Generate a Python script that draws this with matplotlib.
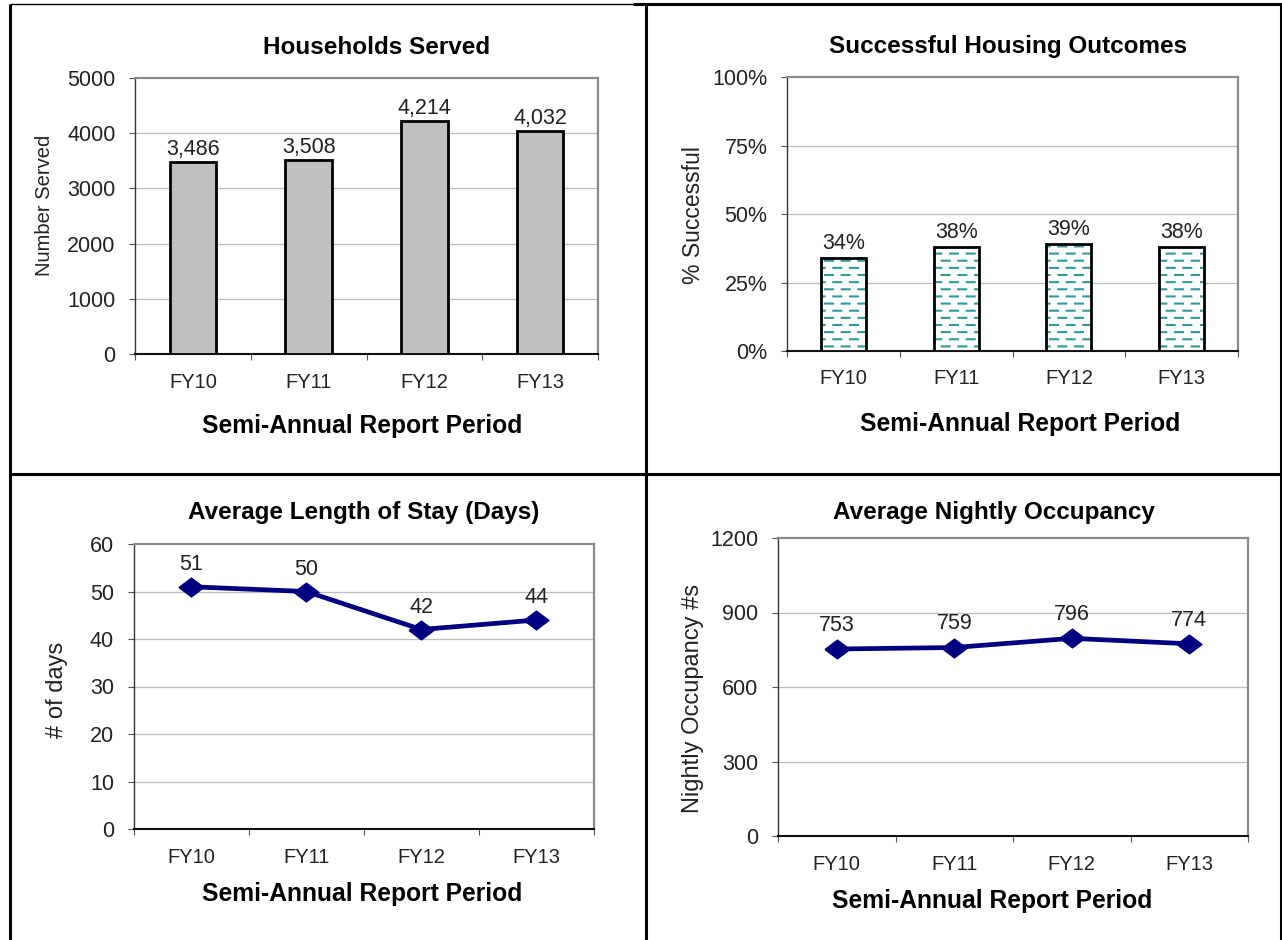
import matplotlib
matplotlib.use("Agg")
import matplotlib.pyplot as plt
import matplotlib.hatch as mhatch
from matplotlib.path import Path
from matplotlib.lines import Line2D
from matplotlib.ticker import FuncFormatter, FixedLocator

# ---------------- data ----------------
periods = ["FY10", "FY11", "FY12", "FY13"]
households = [3486, 3508, 4214, 4032]
success_pct = [34, 38, 39, 38]
stay_days = [51, 50, 42, 44]
occupancy = [753, 759, 796, 774]

titles = ["Households Served", "Successful Housing Outcomes",
          "Average Length of Stay (Days)", "Average Nightly Occupancy"]
ylabels = ["Number Served", "% Successful", "# of days", "Nightly Occupancy #s"]
xlabel = "Semi-Annual Report Period"

# ---------------- styling ----------------
plt.rcParams['font.family'] = ['Liberation Sans', 'DejaVu Sans']
plt.rcParams['hatch.linewidth'] = 1.5

W, H = 1282, 940
fig = plt.figure(figsize=(W / 100, H / 100), dpi=100)


# dashed-row hatch (replaces the plain '-' hatch)
class DashRows(mhatch.HatchPatternBase):
    rows = 14
    per_row = 6

    def __init__(self, hatch, density):
        self.num_lines = self.rows * self.per_row if '-' in hatch else 0
        self.num_vertices = self.num_lines * 2

    def set_vertices_and_codes(self, vertices, codes):
        k = 0
        period = 1.0 / self.per_row
        dash = period * 0.48
        for r in range(self.rows):
            y = (r + 0.5) / self.rows
            off = 0.0 if r % 2 == 0 else period / 2
            for c in range(self.per_row):
                x0 = c * period + off
                vertices[k] = (x0, y)
                vertices[k + 1] = (x0 + dash, y)
                codes[k] = Path.MOVETO
                codes[k + 1] = Path.LINETO
                k += 2


mhatch._hatch_types = [DashRows if t is mhatch.HorizontalHatch else t
                       for t in mhatch._hatch_types]


def px_axes(x0, y0, x1, y1):
    return fig.add_axes([x0 / W, 1 - y1 / H, (x1 - x0) / W, (y1 - y0) / H])


def ftext(x, y, s, **kw):
    fig.text(x / W, 1 - y / H, s, **kw)


def style_axes(ax, ymax, ystep, fmt, xpad):
    x = range(len(periods))
    ax.set_xlim(-0.5, len(periods) - 0.5)
    ax.set_ylim(0, ymax)
    yt = list(range(0, ymax + 1, ystep))
    ax.set_yticks(yt)
    ax.yaxis.set_major_formatter(FuncFormatter(fmt))
    for v in yt[1:-1]:
        ax.axhline(v, color='#bdbdbd', lw=0.9, zorder=0)
    ax.set_xticks(list(x))
    ax.set_xticklabels(periods)
    ax.xaxis.set_minor_locator(FixedLocator([i - 0.5 for i in range(len(periods) + 1)]))
    ax.tick_params(axis='x', which='major', length=0, pad=xpad,
                   labelsize=14.5, labelcolor='#222222')
    ax.tick_params(axis='x', which='minor', length=4.5, width=0.8,
                   color='#555555', direction='out')
    ax.tick_params(axis='y', which='major', length=4, width=0.8,
                   color='#555555', direction='out', pad=10.0,
                   labelsize=15.5, labelcolor='#222222')
    for s in ('top', 'right'):
        ax.spines[s].set_color('#8a8a8a')
        ax.spines[s].set_linewidth(1.6)
    ax.spines['left'].set_color('#333333')
    ax.spines['left'].set_linewidth(1.0)
    ax.spines['bottom'].set_color('#111111')
    ax.spines['bottom'].set_linewidth(1.5)


xpos = list(range(len(periods)))

# ---- Households Served ----
ax1 = px_axes(135, 78, 598, 354)
style_axes(ax1, 5000, 1000, lambda v, p: f"{int(v)}", 14)
ax1.bar(xpos, households, width=0.4, color='#c0c0c0', edgecolor='black',
        linewidth=2.0, zorder=3)
for x, v in zip(xpos, households):
    ax1.annotate(f"{v:,}", (x, v), xytext=(0, 5), textcoords='offset points',
                 ha='center', va='baseline', fontsize=15.5, color='#222222')

# ---- Successful Housing Outcomes ----
ax2 = px_axes(787, 77, 1238, 351)
style_axes(ax2, 100, 25, lambda v, p: f"{int(v)}%", 13)
ax2.bar(xpos, success_pct, width=0.4, color='white', edgecolor='#2e9a9a',
        linewidth=0, hatch='-', zorder=3)
ax2.bar(xpos, success_pct, width=0.4, fill=False, edgecolor='black',
        linewidth=2.0, zorder=4)
for x, v in zip(xpos, success_pct):
    ax2.annotate(f"{v}%", (x, v), xytext=(0, 6.5), textcoords='offset points',
                 ha='center', va='baseline', fontsize=15.5, color='#222222')

# ---- line charts ----
diamond = [(-1, 0), (0, 0.75), (1, 0), (0, -0.75), (-1, 0)]

ax3 = px_axes(133.5, 544, 594, 829)
style_axes(ax3, 60, 10, lambda v, p: f"{int(v)}", 14)
ax3.plot(xpos, stay_days, color='#000080', lw=3.4, marker=diamond,
         markersize=18, zorder=3)
for x, v in zip(xpos, stay_days):
    ax3.annotate(f"{v}", (x, v), xytext=(0, 12), textcoords='offset points',
                 ha='center', va='baseline', fontsize=15.5, color='#222222')

ax4 = px_axes(778, 538, 1248, 836)
style_axes(ax4, 1200, 300, lambda v, p: f"{int(v)}", 13.5)
ax4.plot(xpos, occupancy, color='#000080', lw=3.4, marker=diamond,
         markersize=18, zorder=3)
for x, v in zip(xpos, occupancy):
    ax4.annotate(f"{v}", (x, v), xytext=(0, 13), textcoords='offset points',
                 ha='center', va='baseline', fontsize=15.5, color='#222222')

# ---- titles, axis labels ----
title_pos = [(377, 47), (1008, 46), (364, 513), (994, 512)]
xlabel_pos = [(362, 426), (1020, 424), (362, 894), (992, 901)]
ylabel_pos = [(45, 205), (693, 215), (57, 690), (693, 698)]
ylabel_size = [14.5, 16.5, 17, 17]

for i in range(4):
    ftext(*title_pos[i], titles[i], ha='center', va='center',
          fontsize=17.5, fontweight='bold', color='black')
    ftext(*xlabel_pos[i], xlabel, ha='center', va='center',
          fontsize=17.7, fontweight='bold', color='black')
    ftext(*ylabel_pos[i], ylabels[i], ha='center', va='center',
          rotation=90, fontsize=ylabel_size[i], color='#222222')

# ---- table borders ----
def fline(xs, ys, lw):
    fig.add_artist(Line2D([x / W for x in xs], [1 - y / H for y in ys],
                          color='black', lw=lw, solid_capstyle='butt'))

fline([10, 633], [4, 4], 1.0)
fline([633, 1282], [4, 4], 2.2)
fline([10, 10], [4, 940], 2.2)
fline([645.5, 645.5], [4, 940], 2.2)
fline([1280.5, 1280.5], [4, 940], 2.2)
fline([10, 1282], [474, 474], 2.2)

fig.savefig("out.png", dpi=100)
